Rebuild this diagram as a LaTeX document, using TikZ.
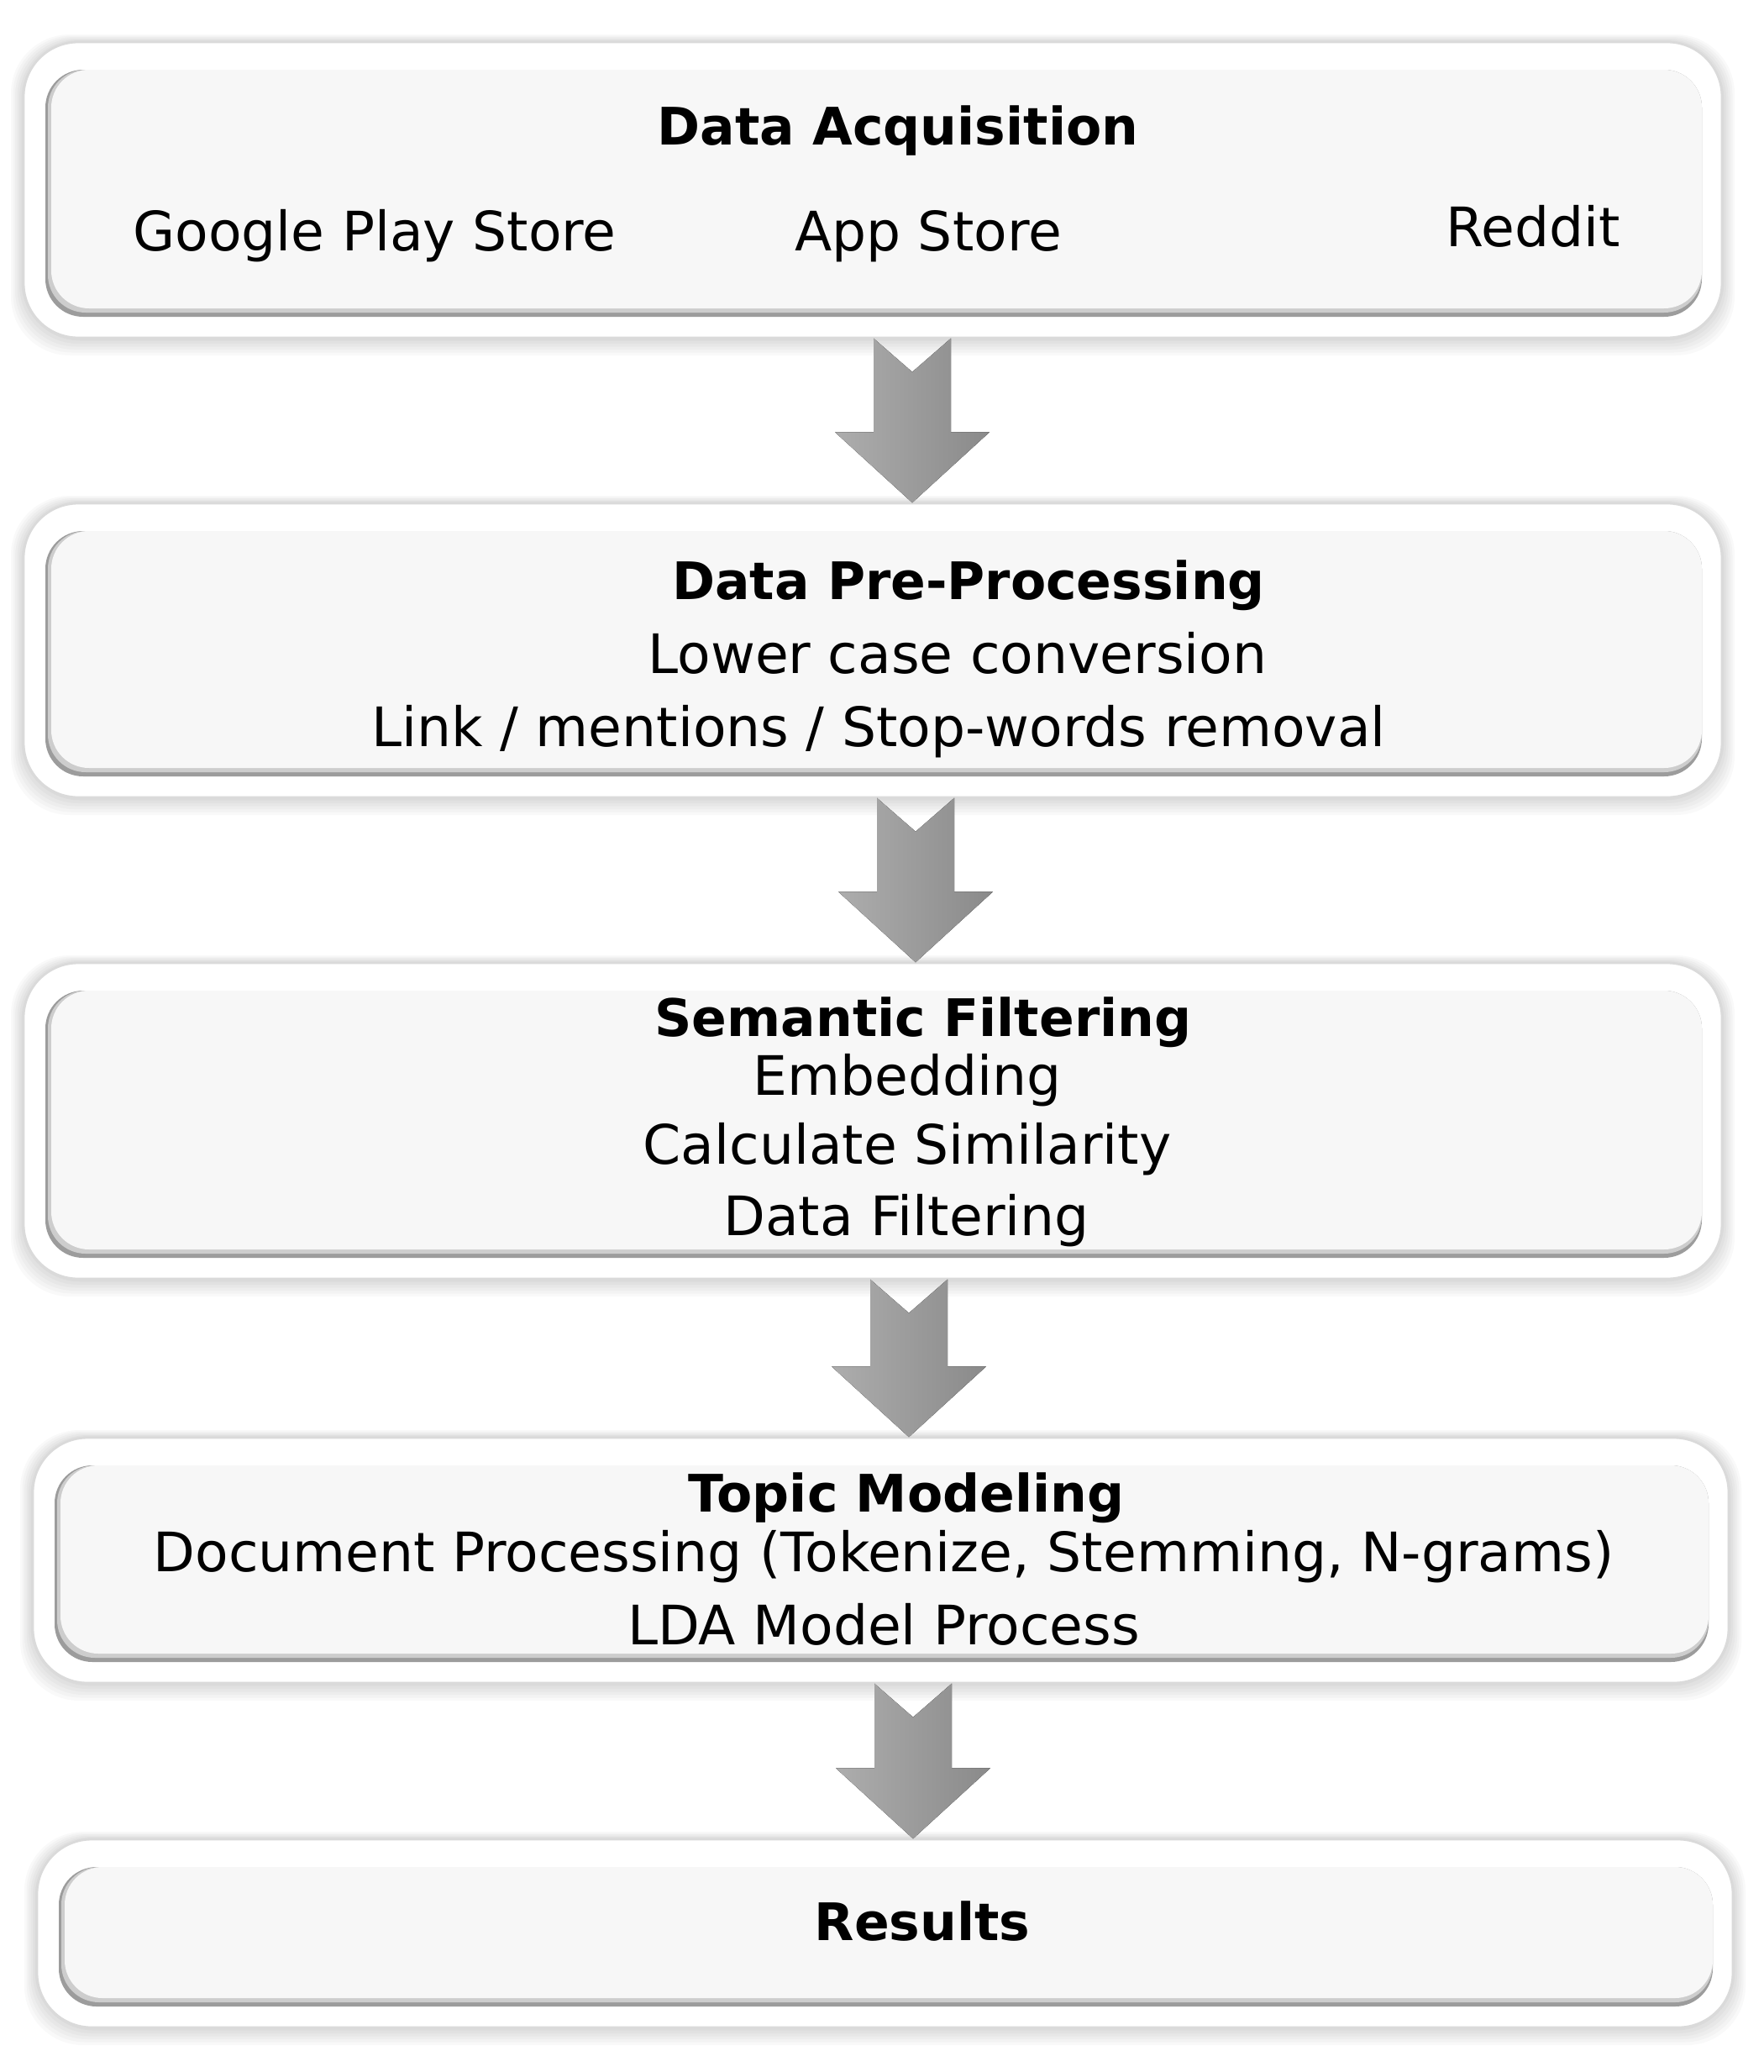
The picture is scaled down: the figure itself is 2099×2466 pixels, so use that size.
\documentclass[tikz,border=0pt]{standalone}
\usepackage{fontspec}
\setmainfont{DejaVu Sans}
\usetikzlibrary{calc,fit}
\definecolor{boxg}{HTML}{F7F7F7}
\definecolor{borderg}{HTML}{DADADA}
\definecolor{bevdark}{HTML}{9C9C9C}
\definecolor{bevmid}{HTML}{CDCDCD}
\definecolor{arrowL}{HTML}{ADADAD}
\definecolor{arrowR}{HTML}{8A8A8A}
\tikzset{
  txt/.style={anchor=base, inner sep=0pt, font=\fontsize{18.4}{22}\selectfont},
  ttl/.style={anchor=base, inner sep=0pt, font=\fontsize{17.5}{21}\selectfont\bfseries},
  arrowfill/.style={left color=arrowL, right color=arrowR, draw=none},
}
\newcommand\stagebox[5]{%
  \foreach \k in {1,...,6}{\fill[black,opacity=0.022,rounded corners=0.7cm] (#2-\k*2.5,#3-\k*1.5) rectangle (#4+\k*2.5,#5+\k*3.5);}
  \fill[white, draw=borderg, line width=0.8pt, rounded corners=0.65cm] (#2,#3) rectangle (#4,#5);
  \fill[bevdark, rounded corners=0.45cm] (#2+26,#3+33) rectangle (#4-24,#5-25);
  \fill[bevmid, rounded corners=0.45cm] (#2+29,#3+33) rectangle (#4-24,#5-30);
  \fill[boxg, rounded corners=0.45cm] (#2+33,#3+33) rectangle (#4-24,#5-35);
  \coordinate (#1nw) at (#2,#3);
  \coordinate (#1se) at (#4,#5);
  \node[fit=(#1nw)(#1se), inner sep=0pt] (#1) {};
}
% name, x of stem centre, upper box, lower box
\newcommand\blockarrow[4]{%
  \coordinate (#1s) at (#2,0 |- #3.south);
  \coordinate (#1t) at (#2,0 |- #4.north);
  \fill[arrowfill] (#1t) -- ($(#1t)+(-92,-84)$) -- ($(#1t)+(-46,-84)$) -- ($(#1s)+(-46,0)$)
     -- ($(#1s)+(0,40)$) -- ($(#1s)+(46,0)$) -- ($(#1t)+(46,-84)$) -- ($(#1t)+(92,-84)$) -- cycle;
}
\begin{document}
\begin{tikzpicture}[x=0.01cm,y=-0.01cm]
\useasboundingbox[fill=white] (0,0) rectangle (2099,2466);

\stagebox{b1}{28}{50}{2050}{402}
\stagebox{b2}{28}{599}{2050}{949}
\stagebox{b3}{28}{1146}{2050}{1522}
\stagebox{b4}{39}{1711}{2058}{2003}
\stagebox{b5}{44}{2189}{2063}{2413}

\blockarrow{a1}{1086}{b1}{b2}
\blockarrow{a2}{1090}{b2}{b3}
\blockarrow{a3}{1082}{b3}{b4}
\blockarrow{a4}{1087}{b4}{b5}

\node[ttl] (t1) at (1069,172) {Data Acquisition};
\node[txt] (s1a) at (446,298) {Google Play Store};
\node[txt] (s1b) at (1105,298) {App Store};
\node[txt] (s1c) at (1825,293) {Reddit};

\node[ttl] (t2) at (1153,713) {Data Pre-Processing};
\node[txt] (s2a) at (1140,801) {Lower case conversion};
\node[txt] (s2b) at (1046,888) {Link / mentions / Stop-words removal};

\node[ttl] (t3) at (1099,1233) {Semantic Filtering};
\node[txt] (s3a) at (1080,1303) {Embedding};
\node[txt] (s3b) at (1080,1385) {Calculate Similarity};
\node[txt] (s3c) at (1079,1470) {Data Filtering};

\node[ttl] (t4) at (1079,1799) {Topic Modeling};
\node[txt] (s4a) at (1052,1870) {Document Processing (Tokenize, Stemming, N-grams)};
\node[txt] (s4b) at (1052,1957) {LDA Model Process};

\node[ttl] (t5) at (1098,2309) {Results};
\end{tikzpicture}
\end{document}
